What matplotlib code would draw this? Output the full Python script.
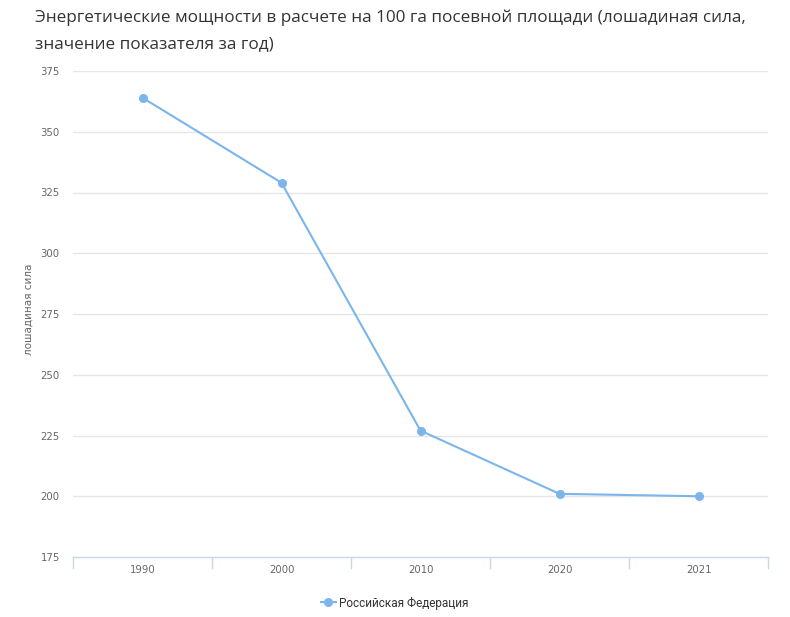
import matplotlib
matplotlib.use("Agg")
import matplotlib.pyplot as plt
from matplotlib.lines import Line2D

title = "Энергетические мощности в расчете на 100 га посевной площади (лошадиная сила,\nзначение показателя за год)"
years = ["1990", "2000", "2010", "2020", "2021"]
values = [364, 329, 227, 201, 200]
series_name = "Российская Федерация"
y_label = "лошадиная сила"
y_ticks = [175, 200, 225, 250, 275, 300, 325, 350, 375]

line_color = "#7cb5ec"

fig = plt.figure(figsize=(7.9, 6.17), dpi=100)
ax = fig.add_axes([73 / 790, 1 - 557 / 617, 695 / 790, 486 / 617])

x = list(range(len(years)))
ax.plot(x, values, color=line_color, lw=1.5, marker="o", ms=5.5, zorder=3)

ax.set_xlim(-0.5, len(years) - 0.5)
ax.set_ylim(175, 375)
ax.set_yticks(y_ticks)
ax.set_yticklabels([str(v) for v in y_ticks], fontsize=7.3, color="#666666")
ax.set_xticks(x)
ax.set_xticklabels(years, fontsize=7.3, color="#666666")
ax.tick_params(axis="x", length=0, pad=6)
ax.tick_params(axis="y", length=0, pad=9.5)

# gridlines (except the base line, which is the axis)
for v in y_ticks[1:]:
    ax.axhline(v, color="#e6e6e6", lw=1, zorder=1)

for s in ["top", "right", "left"]:
    ax.spines[s].set_visible(False)
ax.spines["bottom"].set_color("#ccd6eb")
ax.spines["bottom"].set_linewidth(1)

# category boundary ticks
for b in [i - 0.5 for i in range(len(years) + 1)]:
    ax.plot([b, b], [0, -0.022], transform=ax.get_xaxis_transform(),
            color="#ccd6eb", lw=1, clip_on=False)

ax.set_ylabel(y_label, fontsize=7.5, color="#666666")
ax.yaxis.set_label_coords(-0.056, 0.51)

fig.text(35 / 790, 1 - 10 / 617, title, fontsize=12.3, color="#333333",
         va="top", ha="left", linespacing=1.8, family="Open Sans")

handle = Line2D([], [], color=line_color, lw=1.5, marker="o", ms=5.5)
fig.legend([handle], [series_name], loc="center", bbox_to_anchor=(0.5, 1 - 603 / 617),
           frameon=False, prop={"family": "Roboto", "size": 8.5}, handlelength=1.2,
           handletextpad=0.3, labelcolor="#333333")

fig.savefig("out.png", dpi=100)
